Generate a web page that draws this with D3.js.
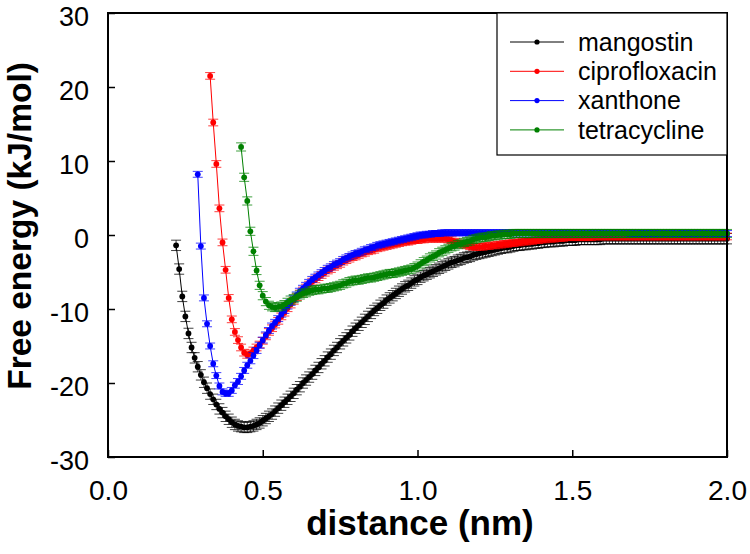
<!DOCTYPE html>
<html>
<head>
<meta charset="utf-8">
<script src="https://cdn.jsdelivr.net/npm/d3@7"></script>
<style>
  html, body { margin: 0; padding: 0; background: #fff; }
  svg { display: block; font-family: Arial, "Liberation Sans", sans-serif; }
</style>
</head>
<body>
<svg id="chart" width="750" height="554"></svg>
<script>
// ---- data ----
const seriesNames = ["mangostin", "ciprofloxacin", "xanthone", "tetracycline"];
const seriesColors = ["#000000", "#ff0000", "#0000ff", "#008000"];
const xTicks = [0.0, 0.5, 1.0, 1.5, 2.0];
const yTicks = [-30, -20, -10, 0, 10, 20, 30];
const distanceStep = 0.01;          // sampling interval of the PMF (nm)
const seriesStart = [0.22, 0.33, 0.29, 0.43]; // first distance of each curve (nm)
const seriesError = [0.7, 0.45, 0.4, 0.55];   // approximate error-bar half-height (kJ/mol)

const mangostin = [
  -1.4, -4.6, -8.3, -11.0, -13.3, -15.2, -16.6, -17.8, -18.9, -19.9,
  -20.7, -21.5, -22.2, -22.9, -23.5, -24.0, -24.5, -24.9, -25.3, -25.6,
  -25.8, -25.9, -26.0, -26.0, -25.9, -25.8, -25.6, -25.4, -25.1, -24.8,
  -24.5, -24.2, -23.8, -23.4, -23.0, -22.6, -22.2, -21.8, -21.4, -20.9,
  -20.5, -20.0, -19.6, -19.2, -18.8, -18.3, -17.9, -17.4, -17.0, -16.5,
  -16.1, -15.6, -15.2, -14.7, -14.3, -13.9, -13.5, -13.0, -12.6, -12.2,
  -11.8, -11.4, -11.0, -10.6, -10.2, -9.9, -9.5, -9.2, -8.8, -8.5,
  -8.2, -7.9, -7.6, -7.3, -7.0, -6.8, -6.5, -6.2, -6.0, -5.7,
  -5.5, -5.3, -5.1, -4.9, -4.7, -4.5, -4.3, -4.1, -3.9, -3.7,
  -3.6, -3.4, -3.3, -3.1, -3.0, -2.9, -2.7, -2.6, -2.5, -2.4,
  -2.3, -2.2, -2.1, -2.0, -1.9, -1.8, -1.7, -1.7, -1.6, -1.5,
  -1.4, -1.4, -1.3, -1.3, -1.2, -1.2, -1.1, -1.1, -1.0, -1.0,
  -0.9, -0.9, -0.9, -0.8, -0.8, -0.8, -0.7, -0.7, -0.7, -0.7,
  -0.6, -0.6, -0.6, -0.6, -0.6, -0.6, -0.6, -0.6, -0.5, -0.5,
  -0.5, -0.5, -0.5, -0.5, -0.5, -0.5, -0.5, -0.5, -0.5, -0.5,
  -0.5, -0.5, -0.5, -0.5, -0.5, -0.5, -0.5, -0.5, -0.5, -0.5,
  -0.5, -0.5, -0.5, -0.5, -0.5, -0.5, -0.5, -0.5, -0.5, -0.5,
  -0.5, -0.5, -0.5, -0.5, -0.5, -0.5, -0.5, -0.5, -0.5
];

const ciprofloxacin = [
  21.5, 15.2, 9.6, 3.6, -1.0, -4.7, -8.5, -11.4, -13.1, -14.2,
  -15.2, -15.9, -16.2, -16.0, -15.6, -15.2, -14.8, -14.3, -13.7, -13.1,
  -12.6, -12.1, -11.6, -11.0, -10.5, -9.9, -9.4, -8.9, -8.4, -7.9,
  -7.5, -7.1, -6.7, -6.3, -6.0, -5.7, -5.4, -5.1, -4.8, -4.6,
  -4.3, -4.1, -3.9, -3.6, -3.4, -3.2, -3.0, -2.9, -2.7, -2.5,
  -2.4, -2.2, -2.1, -2.0, -1.8, -1.7, -1.6, -1.5, -1.4, -1.3,
  -1.2, -1.1, -1.0, -0.9, -0.9, -0.8, -0.7, -0.7, -0.6, -0.6,
  -0.5, -0.5, -0.5, -0.5, -0.5, -0.5, -0.5, -0.6, -0.7, -0.9,
  -1.0, -1.2, -1.3, -1.4, -1.5, -1.6, -1.6, -1.6, -1.6, -1.5,
  -1.5, -1.4, -1.4, -1.3, -1.3, -1.2, -1.2, -1.1, -1.1, -1.0,
  -1.0, -0.9, -0.9, -0.8, -0.8, -0.7, -0.7, -0.6, -0.6, -0.5,
  -0.5, -0.5, -0.4, -0.4, -0.4, -0.3, -0.3, -0.3, -0.3, -0.3,
  -0.3, -0.3, -0.3, -0.3, -0.2, -0.2, -0.2, -0.2, -0.2, -0.2,
  -0.2, -0.2, -0.2, -0.2, -0.2, -0.2, -0.2, -0.2, -0.2, -0.2,
  -0.2, -0.2, -0.2, -0.2, -0.2, -0.2, -0.2, -0.2, -0.2, -0.2,
  -0.2, -0.2, -0.2, -0.2, -0.2, -0.2, -0.2, -0.2, -0.2, -0.2,
  -0.2, -0.2, -0.2, -0.2, -0.2, -0.2, -0.2, -0.2
];

const xanthone = [
  8.2, -1.5, -8.5, -12.0, -15.0, -17.4, -19.0, -20.4, -21.2, -21.4,
  -21.4, -21.0, -20.3, -19.8, -19.1, -18.3, -17.6, -17.0, -16.3, -15.6,
  -14.9, -14.2, -13.5, -12.9, -12.3, -11.8, -11.3, -10.7, -10.2, -9.6,
  -9.1, -8.6, -8.1, -7.6, -7.2, -6.8, -6.4, -6.0, -5.7, -5.4,
  -5.1, -4.8, -4.5, -4.3, -4.0, -3.8, -3.6, -3.3, -3.1, -2.9,
  -2.7, -2.5, -2.4, -2.2, -2.0, -1.9, -1.7, -1.6, -1.4, -1.3,
  -1.2, -1.1, -1.0, -0.9, -0.8, -0.7, -0.6, -0.5, -0.4, -0.3,
  -0.2, -0.1, 0.0, 0.0, 0.1, 0.1, 0.2, 0.2, 0.2, 0.3,
  0.3, 0.3, 0.3, 0.3, 0.3, 0.3, 0.3, 0.3, 0.3, 0.3,
  0.3, 0.3, 0.3, 0.3, 0.3, 0.3, 0.3, 0.3, 0.3, 0.3,
  0.3, 0.3, 0.3, 0.3, 0.3, 0.3, 0.3, 0.3, 0.3, 0.3,
  0.3, 0.3, 0.3, 0.3, 0.3, 0.3, 0.3, 0.3, 0.3, 0.3,
  0.3, 0.3, 0.3, 0.3, 0.3, 0.3, 0.3, 0.3, 0.3, 0.3,
  0.3, 0.3, 0.3, 0.3, 0.3, 0.3, 0.3, 0.3, 0.3, 0.3,
  0.2, 0.2, 0.2, 0.2, 0.2, 0.2, 0.2, 0.2, 0.2, 0.2,
  0.2, 0.2, 0.2, 0.2, 0.2, 0.2, 0.2, 0.2, 0.2, 0.2,
  0.2, 0.2, 0.2, 0.2, 0.2, 0.2, 0.2, 0.2, 0.2, 0.2,
  0.2, 0.2
];

const tetracycline = [
  11.9, 7.8, 4.6, 0.5, -2.2, -4.8, -6.8, -8.2, -9.0, -9.5,
  -9.7, -9.8, -9.7, -9.6, -9.4, -9.1, -8.8, -8.6, -8.4, -8.1,
  -7.9, -7.8, -7.6, -7.5, -7.4, -7.4, -7.3, -7.2, -7.2, -7.1,
  -7.0, -6.9, -6.8, -6.6, -6.5, -6.3, -6.2, -6.1, -6.1, -6.0,
  -5.9, -5.8, -5.8, -5.7, -5.6, -5.5, -5.4, -5.3, -5.2, -5.2,
  -5.1, -5.0, -4.9, -4.8, -4.7, -4.6, -4.4, -4.2, -3.9, -3.6,
  -3.4, -3.1, -2.9, -2.7, -2.4, -2.2, -2.0, -1.8, -1.6, -1.5,
  -1.3, -1.2, -1.0, -0.9, -0.8, -0.6, -0.5, -0.4, -0.3, -0.3,
  -0.2, -0.1, -0.1, 0.0, 0.0, 0.1, 0.1, 0.1, 0.2, 0.2,
  0.2, 0.2, 0.2, 0.2, 0.2, 0.2, 0.2, 0.2, 0.2, 0.2,
  0.2, 0.2, 0.2, 0.2, 0.2, 0.2, 0.2, 0.2, 0.2, 0.2,
  0.2, 0.2, 0.2, 0.2, 0.2, 0.2, 0.2, 0.2, 0.2, 0.2,
  0.2, 0.2, 0.2, 0.2, 0.2, 0.2, 0.2, 0.2, 0.2, 0.2,
  0.2, 0.2, 0.2, 0.2, 0.2, 0.2, 0.2, 0.2, 0.2, 0.2,
  0.2, 0.2, 0.2, 0.2, 0.2, 0.2, 0.2, 0.2, 0.2, 0.2,
  0.2, 0.2, 0.2, 0.2, 0.2, 0.2, 0.2, 0.2
];

const seriesValues = [mangostin, ciprofloxacin, xanthone, tetracycline];

// ---- layout ----
const plot = { left: 108, right: 727, top: 13, bottom: 457 };
const svg = d3.select("#chart");
const FONT = "Arial, 'Liberation Sans', sans-serif";

const x = d3.scaleLinear().domain([0, 2]).range([plot.left, plot.right]);
const y = d3.scaleLinear().domain([-30, 30]).range([plot.bottom, plot.top]);

const series = seriesNames.map((name, i) => ({
  name,
  color: seriesColors[i],
  err: seriesError[i],
  points: seriesValues[i].map((v, k) => ({ d: +(seriesStart[i] + k * distanceStep).toFixed(3), e: v }))
}));

// ---- series ----
const line = d3.line().x(p => x(p.d)).y(p => y(p.e));
const gData = svg.append("g");
series.forEach(s => {
  const g = gData.append("g");
  g.append("path").attr("d", line(s.points))
    .attr("fill", "none").attr("stroke", s.color).attr("stroke-width", 1);
  g.selectAll("path.err").data(s.points).join("path").attr("class", "err")
    .attr("d", p => {
      const cx = x(p.d), y1 = y(p.e + s.err), y2 = y(p.e - s.err);
      return `M${cx - 5},${y1}H${cx + 5}M${cx},${y1}V${y2}M${cx - 5},${y2}H${cx + 5}`;
    })
    .attr("stroke", s.color).attr("stroke-width", 1).attr("fill", "none").attr("opacity", 0.75);
  g.selectAll("circle").data(s.points).join("circle")
    .attr("cx", p => x(p.d)).attr("cy", p => y(p.e)).attr("r", 2.9)
    .attr("fill", s.color);
});

// ---- axes ----
const yAxis = d3.axisLeft(y).tickValues(yTicks).tickSize(-7).tickPadding(19).tickFormat(d3.format("d"));
const gy = svg.append("g").attr("transform", `translate(${plot.left},0)`).call(yAxis);
gy.select(".domain").remove();
gy.selectAll(".tick line").attr("stroke", "#000").attr("stroke-width", 1.5);
gy.selectAll(".tick text").attr("font-size", 27).attr("fill", "#000").attr("dy", "0.45em")
  .attr("font-family", FONT).text(d => String(d));

const xAxis = d3.axisBottom(x).tickValues(xTicks).tickSize(-7).tickPadding(23).tickFormat(d3.format(".1f"));
const gx = svg.append("g").attr("transform", `translate(0,${plot.bottom})`).call(xAxis);
gx.select(".domain").remove();
gx.selectAll(".tick line").attr("stroke", "#000").attr("stroke-width", 1.5);
gx.selectAll(".tick text").attr("font-size", 28).attr("fill", "#000")
  .attr("font-family", FONT);

// frame
svg.append("rect").attr("x", plot.left).attr("y", plot.top)
  .attr("width", plot.right - plot.left).attr("height", plot.bottom - plot.top)
  .attr("fill", "none").attr("stroke", "#000").attr("stroke-width", 2);

// axis titles
svg.append("text").attr("x", 420).attr("y", 535)
  .attr("text-anchor", "middle").attr("font-size", 35).attr("font-weight", "bold")
  .attr("font-family", FONT).text("distance (nm)");
svg.append("text").attr("transform", `translate(31,226) rotate(-90)`)
  .attr("text-anchor", "middle").attr("font-size", 33.5).attr("font-weight", "bold")
  .attr("font-family", FONT).text("Free energy (kJ/mol)");

// ---- legend ----
const legend = { left: 497, top: 13, right: 727, bottom: 155 };
svg.append("rect").attr("x", legend.left).attr("y", legend.top)
  .attr("width", legend.right - legend.left).attr("height", legend.bottom - legend.top)
  .attr("fill", "#fff").attr("stroke", "#000").attr("stroke-width", 1.2);
series.forEach((s, i) => {
  const cy = 42 + i * 29.3;
  svg.append("line").attr("x1", 510).attr("x2", 564).attr("y1", cy).attr("y2", cy)
    .attr("stroke", s.color).attr("stroke-width", 1);
  svg.append("circle").attr("cx", 537).attr("cy", cy).attr("r", 2.6).attr("fill", s.color);
  svg.append("text").attr("x", 578).attr("y", cy).attr("dy", "0.35em")
    .attr("font-size", 25).attr("fill", "#000").attr("font-family", FONT).text(s.name);
});
</script>
</body>
</html>
